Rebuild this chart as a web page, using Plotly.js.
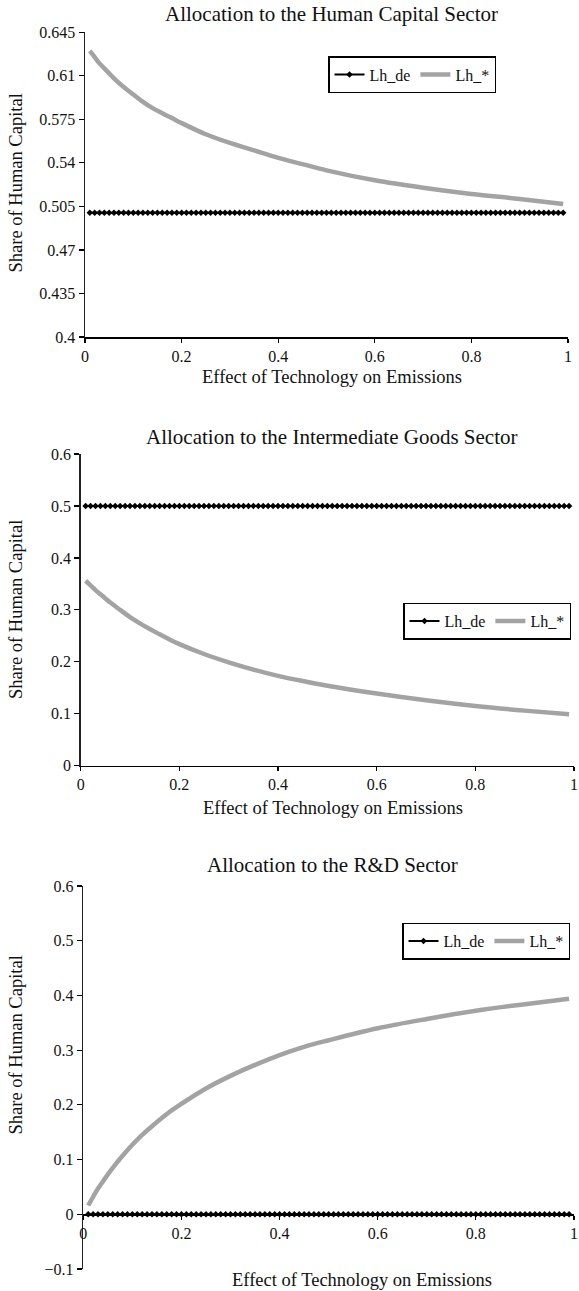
<!DOCTYPE html>
<html>
<head>
<meta charset="utf-8">
<script src="https://cdn.plot.ly/plotly-3.0.1.min.js"></script>
<style>
html, body { margin: 0; padding: 0; background: #ffffff; }
#chart { width: 579px; height: 1291px; }
</style>
</head>
<body>
<div id="chart"></div>
<script>
// ---------- DATA ----------
const CHART_TITLES = [
  "Allocation to the Human Capital Sector",
  "Allocation to the Intermediate Goods Sector",
  "Allocation to the R&D Sector"
];
const X_TITLE = "Effect of Technology on Emissions";
const Y_TITLE = "Share of Human Capital";
const SERIES_NAMES = ["Lh_de", "Lh_*"];

// x tick labels (shared)
const X_TICKVALS = [0, 0.2, 0.4, 0.6, 0.8, 1];
const X_TICKTEXT = ["0", "0.2", "0.4", "0.6", "0.8", "1"];

// y tick labels per chart
const Y1_TICKVALS = [0.4, 0.435, 0.47, 0.505, 0.54, 0.575, 0.61, 0.645];
const Y1_TICKTEXT = ["0.4", "0.435", "0.47", "0.505", "0.54", "0.575", "0.61", "0.645"];
const Y2_TICKVALS = [0, 0.1, 0.2, 0.3, 0.4, 0.5, 0.6];
const Y2_TICKTEXT = ["0", "0.1", "0.2", "0.3", "0.4", "0.5", "0.6"];
const Y3_TICKVALS = [-0.1, 0, 0.1, 0.2, 0.3, 0.4, 0.5, 0.6];
const Y3_TICKTEXT = ["\u22120.1", "0", "0.1", "0.2", "0.3", "0.4", "0.5", "0.6"];

// Lh_de sample points (black line with markers)
const X_DE = [
  0.01,0.02,0.03,0.04,0.05,0.06,0.07,0.08,0.09,0.10,0.11,
  0.12,0.13,0.14,0.15,0.16,0.17,0.18,0.19,0.20,0.21,0.22,
  0.23,0.24,0.25,0.26,0.27,0.28,0.29,0.30,0.31,0.32,0.33,
  0.34,0.35,0.36,0.37,0.38,0.39,0.40,0.41,0.42,0.43,0.44,
  0.45,0.46,0.47,0.48,0.49,0.50,0.51,0.52,0.53,0.54,0.55,
  0.56,0.57,0.58,0.59,0.60,0.61,0.62,0.63,0.64,0.65,0.66,
  0.67,0.68,0.69,0.70,0.71,0.72,0.73,0.74,0.75,0.76,0.77,
  0.78,0.79,0.80,0.81,0.82,0.83,0.84,0.85,0.86,0.87,0.88,
  0.89,0.90,0.91,0.92,0.93,0.94,0.95,0.96,0.97,0.98,0.99
];
const LH_DE_HUMAN = [
  0.5,0.5,0.5,0.5,0.5,0.5,0.5,0.5,0.5,0.5,0.5,
  0.5,0.5,0.5,0.5,0.5,0.5,0.5,0.5,0.5,0.5,0.5,
  0.5,0.5,0.5,0.5,0.5,0.5,0.5,0.5,0.5,0.5,0.5,
  0.5,0.5,0.5,0.5,0.5,0.5,0.5,0.5,0.5,0.5,0.5,
  0.5,0.5,0.5,0.5,0.5,0.5,0.5,0.5,0.5,0.5,0.5,
  0.5,0.5,0.5,0.5,0.5,0.5,0.5,0.5,0.5,0.5,0.5,
  0.5,0.5,0.5,0.5,0.5,0.5,0.5,0.5,0.5,0.5,0.5,
  0.5,0.5,0.5,0.5,0.5,0.5,0.5,0.5,0.5,0.5,0.5,
  0.5,0.5,0.5,0.5,0.5,0.5,0.5,0.5,0.5,0.5,0.5
];
const LH_DE_INTER = [
  0.5,0.5,0.5,0.5,0.5,0.5,0.5,0.5,0.5,0.5,0.5,
  0.5,0.5,0.5,0.5,0.5,0.5,0.5,0.5,0.5,0.5,0.5,
  0.5,0.5,0.5,0.5,0.5,0.5,0.5,0.5,0.5,0.5,0.5,
  0.5,0.5,0.5,0.5,0.5,0.5,0.5,0.5,0.5,0.5,0.5,
  0.5,0.5,0.5,0.5,0.5,0.5,0.5,0.5,0.5,0.5,0.5,
  0.5,0.5,0.5,0.5,0.5,0.5,0.5,0.5,0.5,0.5,0.5,
  0.5,0.5,0.5,0.5,0.5,0.5,0.5,0.5,0.5,0.5,0.5,
  0.5,0.5,0.5,0.5,0.5,0.5,0.5,0.5,0.5,0.5,0.5,
  0.5,0.5,0.5,0.5,0.5,0.5,0.5,0.5,0.5,0.5,0.5
];
const LH_DE_RD = [
  0,0,0,0,0,0,0,0,0,0,0,
  0,0,0,0,0,0,0,0,0,0,0,
  0,0,0,0,0,0,0,0,0,0,0,
  0,0,0,0,0,0,0,0,0,0,0,
  0,0,0,0,0,0,0,0,0,0,0,
  0,0,0,0,0,0,0,0,0,0,0,
  0,0,0,0,0,0,0,0,0,0,0,
  0,0,0,0,0,0,0,0,0,0,0,
  0,0,0,0,0,0,0,0,0,0,0
];

// Lh_* (grey curve)
const X_STAR = [0.01,0.02,0.03,0.04,0.05,0.06,0.08,0.10,0.12,0.14,0.16,0.18,0.20,
                0.25,0.30,0.35,0.40,0.45,0.50,0.60,0.70,0.80,0.90,0.99];
const LH_STAR_HUMAN = [0.630,0.625,0.620,0.616,0.612,0.608,0.601,0.595,0.589,0.584,0.580,0.576,0.572,
                       0.563,0.556,0.550,0.544,0.539,0.534,0.526,0.520,0.515,0.511,0.507];
const LH_STAR_INTER = [0.356,0.347,0.338,0.330,0.322,0.314,0.300,0.286,0.274,0.263,0.253,0.243,0.234,
                       0.215,0.199,0.185,0.173,0.163,0.154,0.139,0.126,0.115,0.106,0.099];
const LH_STAR_RD    = [0.016,0.032,0.047,0.060,0.073,0.085,0.107,0.127,0.145,0.161,0.176,0.190,0.202,
                       0.230,0.253,0.273,0.291,0.306,0.318,0.340,0.357,0.372,0.384,0.394];

// ---------- LAYOUT HELPERS (pixel -> paper) ----------
const W = 579, H = 1291;
const px = v => v / W;
const py = v => 1 - v / H;

const FONT = 'Liberation Serif';
const BLACK = '#000000';
const GREY = '#a3a3a3';

function deTrace(y, xa, ya, leg) {
  return {
    type: 'scatter', mode: 'lines+markers', name: SERIES_NAMES[0],
    x: X_DE, y: y, xaxis: xa, yaxis: ya, legend: leg,
    line: { color: BLACK, width: 2 },
    marker: { symbol: 'diamond', size: 5, color: BLACK },
    cliponaxis: false
  };
}
function starTrace(y, xa, ya, leg) {
  return {
    type: 'scatter', mode: 'lines', name: SERIES_NAMES[1],
    x: X_STAR, y: y, xaxis: xa, yaxis: ya, legend: leg,
    line: { color: GREY, width: 4.5, shape: 'spline', smoothing: 1 }
  };
}

const data = [
  deTrace(LH_DE_HUMAN, 'x', 'y', 'legend'),
  starTrace(LH_STAR_HUMAN, 'x', 'y', 'legend'),
  deTrace(LH_DE_INTER, 'x2', 'y2', 'legend2'),
  starTrace(LH_STAR_INTER, 'x2', 'y2', 'legend2'),
  deTrace(LH_DE_RD, 'x3', 'y3', 'legend3'),
  starTrace(LH_STAR_RD, 'x3', 'y3', 'legend3')
];

function xAxis(domain, extra) {
  return Object.assign({
    domain: domain, range: [0, 1],
    tickvals: X_TICKVALS, ticktext: X_TICKTEXT,
    showgrid: false, zeroline: false,
    showline: true, linecolor: BLACK, linewidth: 1.5,
    ticks: 'outside', ticklen: 4, tickwidth: 1.2, tickcolor: BLACK,
    tickfont: { family: FONT, size: 16, color: '#111111' },
    fixedrange: true
  }, extra);
}
function yAxis(domain, range, vals, text, extra) {
  return Object.assign({
    domain: domain, range: range,
    tickvals: vals, ticktext: text,
    showgrid: false, zeroline: false,
    showline: true, linecolor: '#222222', linewidth: 1.5,
    ticks: 'outside', ticklen: 5, tickwidth: 1.2, tickcolor: BLACK,
    tickfont: { family: FONT, size: 16, color: '#111111' },
    fixedrange: true
  }, extra);
}
function legendAt(rightPx, topPx) {
  return {
    orientation: 'h', x: px(rightPx), y: py(topPx),
    xanchor: 'right', yanchor: 'top',
    bgcolor: '#ffffff', bordercolor: BLACK, borderwidth: 1.5,
    font: { family: FONT, size: 16, color: '#111111' },
    itemwidth: 30, tracegroupgap: 0
  };
}

// pixel geometry of the three plot areas
const P1 = { l: 85,   r: 568, t: 32.3, b: 337 };
const P2 = { l: 80.7, r: 574, t: 454,  b: 765.7 };
const P3 = { l: 83.3, r: 574, t: 886,  b: 1269 };
const zeroY3 = P3.b - (P3.b - P3.t) * (0.1 / 0.7);

const ann = [];
function addText(text, xPx, yPx, size, angle) {
  ann.push({
    text: text, xref: 'paper', yref: 'paper',
    x: px(xPx), y: py(yPx), xanchor: 'center', yanchor: 'middle',
    showarrow: false, textangle: angle || 0,
    font: { family: FONT, size: size, color: '#111111' }
  });
}
addText(CHART_TITLES[0], 331, 14, 21);
addText(CHART_TITLES[1], 331.5, 437.3, 21);
addText(CHART_TITLES[2], 332, 865, 21);
addText(X_TITLE, 332, 377, 18.5);
addText(X_TITLE, 333, 808.3, 18.5);
addText(X_TITLE, 362, 1280, 18.5);
addText(Y_TITLE, 15.5, 183, 18.5, -90);
addText(Y_TITLE, 15.5, 609.5, 18.5, -90);
addText(Y_TITLE, 15.5, 1045, 18.5, -90);

const layout = {
  width: W, height: H,
  margin: { l: 0, r: 0, t: 0, b: 0, pad: 0 },
  paper_bgcolor: '#ffffff', plot_bgcolor: '#ffffff',
  showlegend: true,
  font: { family: FONT, size: 16, color: '#111111' },
  xaxis:  xAxis([px(P1.l), px(P1.r)], { anchor: 'y' }),
  xaxis2: xAxis([px(P2.l), px(P2.r)], { anchor: 'y2' }),
  xaxis3: xAxis([px(P3.l), px(P3.r)], { anchor: 'free', position: py(zeroY3) }),
  yaxis:  yAxis([py(P1.b), py(P1.t)], [0.4, 0.645], Y1_TICKVALS, Y1_TICKTEXT, { anchor: 'x' }),
  yaxis2: yAxis([py(P2.b), py(P2.t)], [0, 0.6], Y2_TICKVALS, Y2_TICKTEXT, { anchor: 'x2' }),
  yaxis3: yAxis([py(P3.b), py(P3.t)], [-0.1, 0.6], Y3_TICKVALS, Y3_TICKTEXT, { anchor: 'x3' }),
  legend:  legendAt(496, 56),
  legend2: legendAt(571, 602.7),
  legend3: legendAt(570, 922.7),
  annotations: ann
};

Plotly.newPlot('chart', data, layout, { displayModeBar: false, staticPlot: true });
</script>
</body>
</html>
